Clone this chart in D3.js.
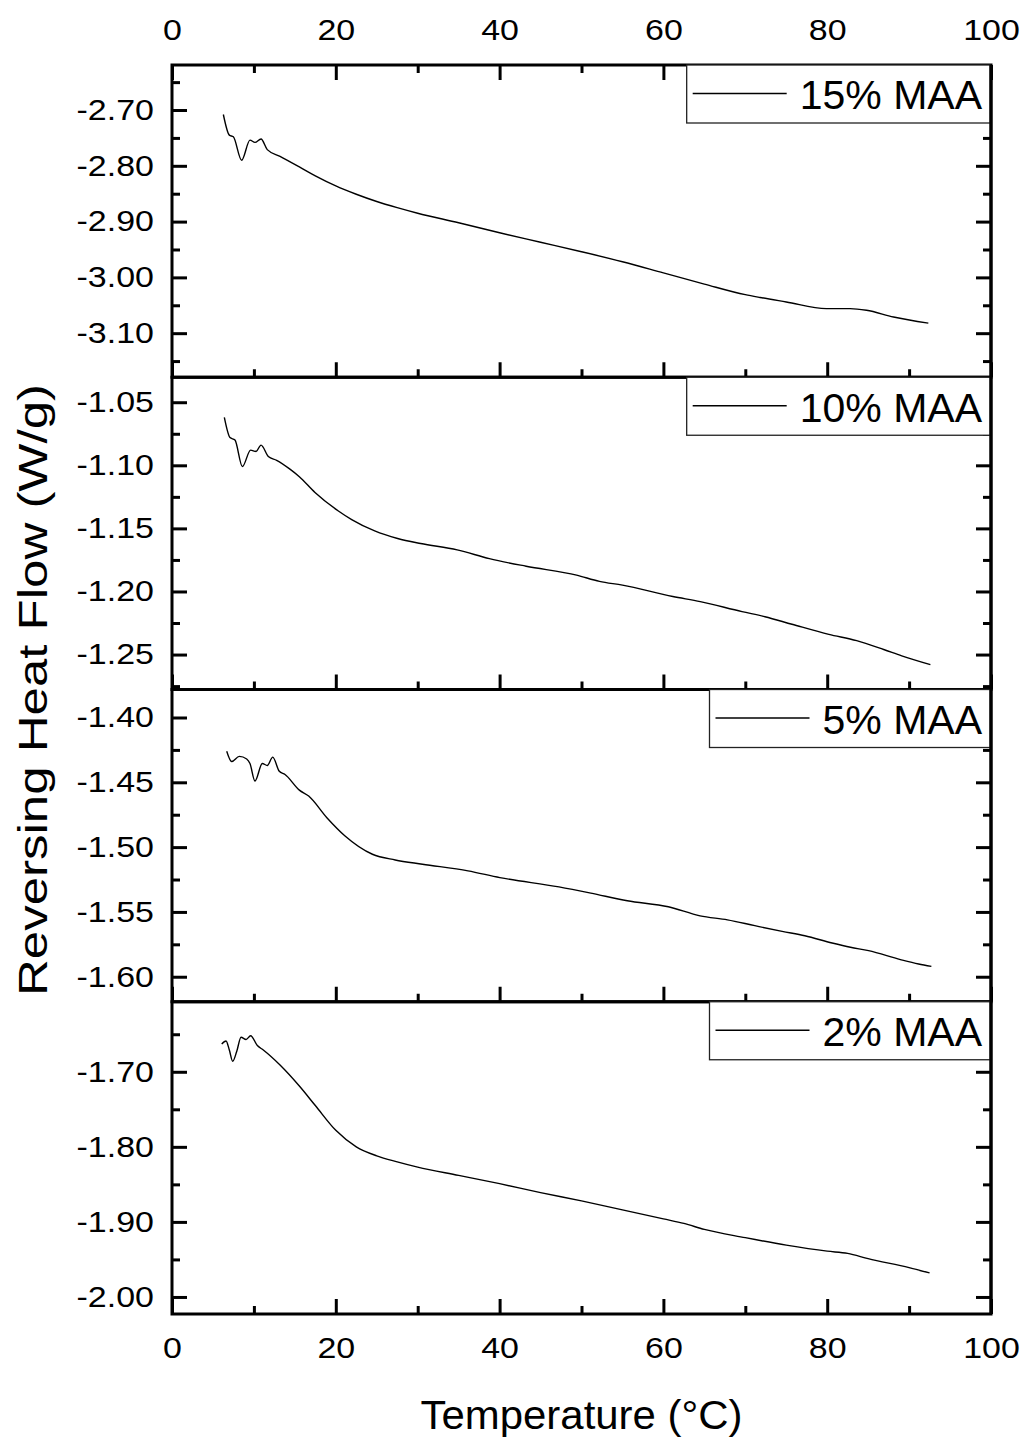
<!DOCTYPE html>
<html lang="en">
<head>
<meta charset="UTF-8">
<title>Reversing Heat Flow</title>
<style>
body{margin:0;background:#fff;}
text{font-family:"Liberation Sans",Arial,sans-serif;fill:#000;}
</style>
</head>
<body id="all">
<script src="https://cdn.jsdelivr.net/npm/d3@7"></script>
<script>
// data: temperature (C) and reversing heat flow (W/g)
var labels=['15% MAA','10% MAA','5% MAA','2% MAA']

var t15=[6.27,7.0,7.49,8.5,9.52,10.13,10.87,11.63,13.19,15.55,17.5,20,22.5,25,27.5,30,35,40,45,50,55,60,65,70,71.8,75,79.9,82.8,84.8,88.1,92.35]
var h15=[-2.708,-2.745,-2.748,-2.790,-2.754,-2.758,-2.752,-2.771,-2.783,-2.802,-2.818,-2.836,-2.851,-2.864,-2.875,-2.885,-2.902,-2.920,-2.937,-2.954,-2.972,-2.992,-3.012,-3.031,-3.036,-3.044,-3.056,-3.056,-3.059,-3.071,-3.082]

var t10=[6.39,7.08,7.69,8.59,9.6,10.26,10.87,11.76,12.78,14.4,15.55,17.46,20.27,21.94,24.75,27.55,30.36,34.82,38.75,43.24,49.4,52.19,55.0,61.15,64.5,69.6,72.4,75.7,80.2,83.6,86.9,89.1,92.6]
var h10=[-1.062,-1.078,-1.080,-1.101,-1.088,-1.089,-1.084,-1.093,-1.096,-1.103,-1.109,-1.1215,-1.136,-1.143,-1.152,-1.158,-1.162,-1.167,-1.174,-1.180,-1.187,-1.192,-1.195,-1.204,-1.208,-1.216,-1.220,-1.226,-1.234,-1.239,-1.246,-1.251,-1.258]

var t5=[6.68,7.29,8.22,9.12,9.52,10.13,11.03,11.64,12.3,13.1,13.8,15.55,16.69,18.91,21.13,24.47,27.25,30.58,36.14,40.03,47.25,51.14,55.59,60.6,64.48,67.82,71.16,74.5,77.27,80.6,82.84,85.05,88.94,91.16,92.72]
var h5=[-1.426,-1.434,-1.430,-1.432,-1.4355,-1.449,-1.4355,-1.437,-1.4306,-1.4415,-1.444,-1.456,-1.4606,-1.4773,-1.4914,-1.5055,-1.5099,-1.5132,-1.5183,-1.5235,-1.5307,-1.5355,-1.5414,-1.546,-1.553,-1.5561,-1.5606,-1.565,-1.5684,-1.574,-1.5773,-1.5799,-1.5868,-1.5902,-1.592]

var t2=[6.07,6.6,7.0,7.41,7.9,8.43,9.04,9.6,10.42,11.15,13.19,15.55,17.5,20,22.5,25,27.5,30,35,40,45,50,55,60,62.5,65,70,75,80,82.5,85,90,92.5]
var h2=[-1.663,-1.659,-1.671,-1.686,-1.673,-1.654,-1.657,-1.652,-1.665,-1.671,-1.691,-1.719,-1.745,-1.778,-1.800,-1.812,-1.820,-1.827,-1.838,-1.849,-1.861,-1.872,-1.884,-1.896,-1.902,-1.910,-1.921,-1.931,-1.939,-1.942,-1.949,-1.961,-1.968]

// axis ranges and ticks
var xTicks=[0,20,40,60,80,100]
var xMinor=[10,30,50,70,90]
var yDomains=[[-3.179,-2.6193],[-1.2777,-1.0302],[-1.6193,-1.3784],[-2.0227,-1.6067]]
var yTicks=[[-2.70,-2.80,-2.90,-3.00,-3.10],[-1.05,-1.10,-1.15,-1.20,-1.25],[-1.40,-1.45,-1.50,-1.55,-1.60],[-1.70,-1.80,-1.90,-2.00]]
var yMinor=[[-2.65,-2.75,-2.85,-2.95,-3.05,-3.15],[-1.075,-1.125,-1.175,-1.225,-1.275],[-1.425,-1.475,-1.525,-1.575],[-1.65,-1.75,-1.85,-1.95]]

var temps=[t15,t10,t5,t2]
var flows=[h15,h10,h5,h2]

var width=1023,height=1440
var plotL=172,plotR=991,plotT=65,plotB=1314
var panelH=(plotB-plotT)/4
var stretch='scale(1.17,1)'

var svg=d3.select('body').append('svg').attr('width',width).attr('height',height)

var x=d3.scaleLinear().domain([0,100]).range([plotL,plotR])

function fmt2(d){return d.toFixed(2)}

function styleAxis(g){
    g.select('.domain').remove()
    g.selectAll('line').attr('stroke','#000').attr('stroke-width',3)
    g.selectAll('text').style('font-size','29px').attr('fill','#000')
}

function panel(i){
    var y0=plotT+i*panelH,y1=y0+panelH
    var y=d3.scaleLinear().domain(yDomains[i]).range([y1,y0])
    var g=svg.append('g')

    // y axis left with labels
    var gl=g.append('g').attr('transform','translate('+plotL+',0)')
        .call(d3.axisLeft(y).tickValues(yTicks[i]).tickSize(-15).tickPadding(15.5).tickFormat(fmt2))
    styleAxis(gl)
    gl.selectAll('text').attr('transform',stretch)
    var glm=g.append('g').attr('transform','translate('+plotL+',0)')
        .call(d3.axisLeft(y).tickValues(yMinor[i]).tickSize(-8).tickFormat(''))
    styleAxis(glm)

    // y axis right, ticks only
    var gr=g.append('g').attr('transform','translate('+plotR+',0)')
        .call(d3.axisRight(y).tickValues(yTicks[i]).tickSize(-15).tickFormat(''))
    styleAxis(gr)
    var grm=g.append('g').attr('transform','translate('+plotR+',0)')
        .call(d3.axisRight(y).tickValues(yMinor[i]).tickSize(-8).tickFormat(''))
    styleAxis(grm)

    // x axis at bottom of every panel, labels only under the last one
    var gb=g.append('g').attr('transform','translate(0,'+y1+')')
        .call(d3.axisBottom(x).tickValues(xTicks).tickSize(-15).tickPadding(23).tickFormat(i==3?d3.format('d'):''))
    styleAxis(gb)
    gb.selectAll('text').attr('transform',stretch)
    var gbm=g.append('g').attr('transform','translate(0,'+y1+')')
        .call(d3.axisBottom(x).tickValues(xMinor).tickSize(-8).tickFormat(''))
    styleAxis(gbm)

    if(i==0){
        var gt=g.append('g').attr('transform','translate(0,'+y0+')')
            .call(d3.axisTop(x).tickValues(xTicks).tickSize(-15).tickPadding(25).tickFormat(d3.format('d')))
        styleAxis(gt)
        gt.selectAll('text').attr('transform',stretch)
        var gtm=g.append('g').attr('transform','translate(0,'+y0+')')
            .call(d3.axisTop(x).tickValues(xMinor).tickSize(-8).tickFormat(''))
        styleAxis(gtm)
    }

    // curve
    var pts=temps[i].map(function(t,k){return [t,flows[i][k]]})
    var line=d3.line().x(function(d){return x(d[0])}).y(function(d){return y(d[1])}).curve(d3.curveMonotoneX)
    g.append('path').datum(pts).attr('d',line)
        .attr('fill','none').attr('stroke','#000').attr('stroke-width',1.4)

    // frame
    g.append('rect').attr('x',plotL).attr('y',y0).attr('width',plotR-plotL).attr('height',panelH)
        .attr('fill','none').attr('stroke','#000').attr('stroke-width',3)

    // legend
    var lg=g.append('g')
    var txt=lg.append('text').text(labels[i]).style('font-size','41px')
    var tw=txt.node().getComputedTextLength()
    var bx=plotR-1-8-tw-113
    lg.insert('rect','text').attr('x',bx).attr('y',y0).attr('width',plotR-1-bx).attr('height',58)
        .attr('fill','#fff').attr('stroke','#222').attr('stroke-width',1.3)
    lg.append('line').attr('x1',bx+6).attr('x2',bx+100).attr('y1',y0+28.5).attr('y2',y0+28.5)
        .attr('stroke','#000').attr('stroke-width',1.3)
    txt.attr('x',bx+113).attr('y',y0+44.3)
}

for(var i=0;i<4;i++){panel(i)}

// redraw outer right edge over the legend boxes
svg.append('line').attr('x1',plotR).attr('x2',plotR).attr('y1',plotT).attr('y2',plotB)
    .attr('stroke','#000').attr('stroke-width',3)

svg.append('text').attr('x',(plotL+plotR)/2).attr('y',1429).attr('text-anchor','middle')
    .style('font-size','40px').attr('textLength',322).attr('lengthAdjust','spacingAndGlyphs')
    .text('Temperature (\u00B0C)')

svg.append('text').attr('transform','translate(47,690) rotate(-90)').attr('text-anchor','middle')
    .style('font-size','40px').attr('textLength',612).attr('lengthAdjust','spacingAndGlyphs')
    .text('Reversing Heat Flow (W/g)')
</script>
</body>
</html>
